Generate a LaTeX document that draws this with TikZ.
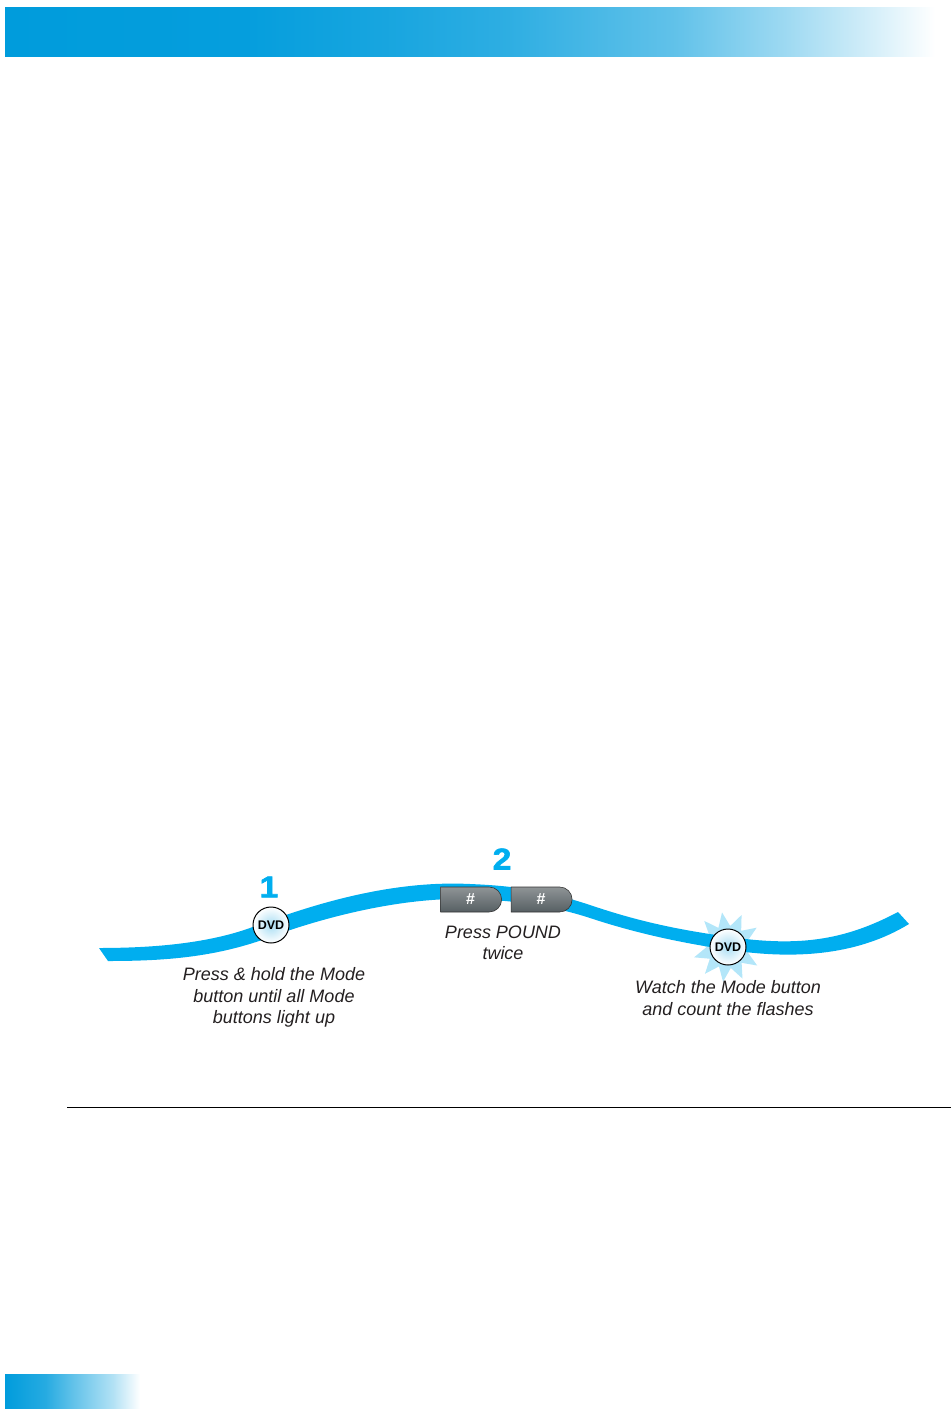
\documentclass[tikz,border=0pt]{standalone}
\usepackage{fontspec}
\setmainfont{Liberation Sans}
\newfontfamily\stepfont[FakeBold=2,FakeStretch=1.12]{Liberation Sans Bold}
\usetikzlibrary{shapes.geometric, shapes.misc}
\definecolor{RibbonBlue}{HTML}{00AEEF}
\definecolor{BandBlue}{HTML}{009CDC}
\definecolor{BurstBlue}{HTML}{B3E6F9}
\definecolor{CaptionInk}{HTML}{231F20}
\definecolor{KeyTop}{HTML}{8F9496}
\definecolor{KeyLow}{HTML}{565F63}
\pgfdeclarehorizontalshading{topband}{100bp}{color(0bp)=(BandBlue); color(25bp)=(BandBlue);
  color(38bp)=(BandBlue!98!white); color(46bp)=(BandBlue!90!white); color(52bp)=(BandBlue!82!white);
  color(61bp)=(BandBlue!62!white); color(67bp)=(BandBlue!38!white); color(72bp)=(BandBlue!15!white);
  color(75bp)=(white); color(100bp)=(white)}
\pgfdeclarehorizontalshading{footband}{100bp}{color(0bp)=(BandBlue); color(25bp)=(BandBlue);
  color(40bp)=(BandBlue!85!white); color(50bp)=(BandBlue!62!white); color(65bp)=(BandBlue!30!white);
  color(75bp)=(white); color(100bp)=(white)}

\begin{document}
\begin{tikzpicture}[
    x=1pt, y=-1pt,
    modekey/.style={circle, draw=black, line width=1pt, minimum size=36pt, inner sep=0pt,
        inner color=BandBlue!34!white, outer color=white, font=\bfseries\fontsize{12.5}{12.5}\selectfont, text=black},
    poundkey/.style={rounded rectangle, rounded rectangle west arc=none, draw=black!80, line width=0.6pt,
        minimum width=61pt, minimum height=25pt, inner sep=0pt, top color=KeyTop, bottom color=KeyLow,
        font=\bfseries\fontsize{16}{16}\selectfont, text=white},
    caption/.style={align=center, font=\itshape\fontsize{18}{21.5}\selectfont, text=CaptionInk},
    stepnum/.style={font=\stepfont\fontsize{30}{30}\selectfont, text=RibbonBlue},
]
\useasboundingbox (0,0) rectangle (951,1412);

% ===== bandas =====
\shade[shading=topband] (5,8) rectangle (935,57);
\shade[shading=footband] (5,1374) rectangle (140,1408);

% ===== destello y cinta =====
\node[star, star points=11, star point ratio=1.65, shape border rotate=9, fill=BurstBlue,
    minimum size=70pt, inner sep=0pt] (burst) at (727.5,947) {};
\fill[RibbonBlue] (99,948) .. controls (150,948) and (205,944) .. (250,928)
    .. controls (310,905) and (390,880) .. (470,884)
    .. controls (520,886) and (550,892) .. (590,905)
    .. controls (640,922) and (680,930) .. (730,937)
    .. controls (800,947) and (845,940) .. (898,912)
    -- (909,924)
    .. controls (855,957) and (790,959) .. (730,950)
    .. controls (680,943) and (632,932) .. (590,918)
    .. controls (550,905) and (510,900) .. (470,899)
    .. controls (400,897) and (320,918) .. (262,940)
    .. controls (210,958) and (160,961) .. (108,961) -- cycle;

% ===== paso 1 =====
\node[stepnum] (num1) at (269,887) {1};
\node[modekey] (mode1) at (271,925) {DVD};
\node[caption] (cap1) at (274,997.5) {Press \& hold the Mode\\button until all Mode\\buttons light up};

% ===== paso 2 =====
\node[stepnum] (num2) at (502,859) {2};
\node[poundkey] (pound1) at (470.5,899.5) {\#\hspace{4pt}};
\node[poundkey] (pound2) at (541,899.5) {\#\hspace{4pt}};
\node[caption] (cap2) at (503,943) {Press POUND\\twice};

% ===== paso 3 =====
\node[modekey] (mode2) at (728,947) {DVD};
\node[caption] (cap3) at (728,998) {Watch the Mode button\\and count the flashes};

% ===== linea inferior =====
\draw[black, line width=0.8pt] (67,1107) -- (951,1107);

\end{tikzpicture}
\end{document}
